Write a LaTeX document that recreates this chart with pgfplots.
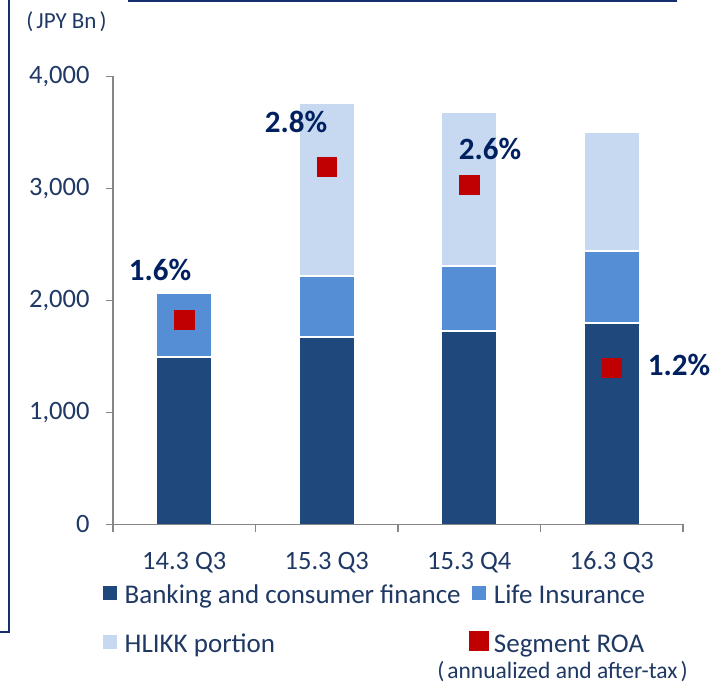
\documentclass[border=0pt]{standalone}
\usepackage{fontspec}
\setmainfont{Carlito}
\usepackage{pgfplots}
\pgfplotsset{compat=1.18}
\usepackage{pgfplotstable}
\definecolor{bank}{RGB}{31,73,125}
\definecolor{life}{RGB}{85,142,213}
\definecolor{hlikk}{RGB}{198,217,241}
\definecolor{roa}{RGB}{192,0,0}
\definecolor{navy}{RGB}{0,32,96}
\definecolor{txt}{RGB}{31,56,100}
\definecolor{axgray}{RGB}{134,134,134}
\definecolor{frame}{RGB}{23,45,110}

\pgfplotstableread{
x bank life hlikk roa
0 1494 566 0 1829
1 1672 545 1545 3190
2 1726 580 1375 3030
3 1797 643 1063 1396
}\data

\begin{document}
\begin{tikzpicture}[x=1pt,y=1pt]
\path[use as bounding box] (0,0) rectangle (728,684);
\draw[frame, line width=2.5pt] (0,52) -- (9,52) -- (9,684);
\draw[frame, line width=2.5pt] (128,683) -- (677,683);
\node[txt, font=\fontsize{23}{27}\selectfont] at (66.5,662) {(\kern3pt JPY Bn\kern3pt)};
\node[txt, inner sep=0pt, font=\fontsize{23.5}{27}\selectfont] at (562.5,12) {(\kern3pt annualized and after-tax\kern3pt)};

\begin{axis}[
  at={(113pt,159.7pt)}, anchor=south west, scale only axis,
  width=570pt, height=448pt,
  xmin=-0.5, xmax=3.5, ymin=0, ymax=4000,
  ybar stacked, bar width=55pt,
  axis lines*=left,
  axis line style={axgray, line width=1.5pt},
  tick style={axgray, line width=1.5pt},
  tick align=outside, major tick length=7pt, minor tick length=8pt,
  xtick={0,1,2,3}, xticklabels={14.3 Q3,15.3 Q3,15.3 Q4,16.3 Q3},
  major x tick style={draw=none},
  minor xtick={-0.5,0.5,1.5,2.5,3.5},
  ytick={0,1000,2000,3000,4000},
  scaled y ticks=false,
  /pgf/number format/1000 sep={,},
  /pgf/number format/assume math mode=true,
  tick label style={txt, font=\fontsize{26.5}{30}\selectfont},
  yticklabel style={xshift=-13pt},
  xticklabel style={yshift=-17pt},
  axis on top,
  legend style={draw=none, fill=none, inner sep=0pt, outer sep=0pt,
    at={(axis description cs:-0.02368,-0.1355)}, anchor=north west,
    legend columns=2, row sep=21pt,
    font=\fontsize{27}{30}\selectfont, text=txt,
    nodes={inner sep=0pt, text height=19pt, text depth=6pt},
    /tikz/every odd column/.append style={column sep=5pt},
    /tikz/every even column/.append style={column sep=8pt}},
  legend cell align=left,
]
\addplot[fill=bank, draw=white, line width=1.2pt,
  legend image code/.code={\path (0pt,0pt) rectangle (19pt,0pt); \fill[bank] (3pt,-2pt) rectangle (16pt,11pt);}]
  table[x=x,y=bank]{\data};
\addplot[fill=life, draw=white, line width=1.2pt,
  legend image code/.code={\path (0pt,0pt) rectangle (19pt,0pt); \fill[life] (3pt,-2pt) rectangle (16pt,11pt);}]
  table[x=x,y=life]{\data};
\addplot[fill=hlikk, draw=white, line width=1.2pt,
  legend image code/.code={\path (0pt,0pt) rectangle (19pt,0pt); \fill[hlikk] (3pt,-2pt) rectangle (16pt,11pt);}]
  table[x=x,y=hlikk]{\data};
\addlegendimage{legend image code/.code={\fill[roa] (0pt,-4pt) rectangle (19pt,15pt);}}
\legend{Banking and consumer finance, Life Insurance, HLIKK portion, Segment ROA}
\end{axis}

\begin{axis}[
  at={(113pt,159.7pt)}, anchor=south west, scale only axis,
  width=570pt, height=448pt,
  xmin=-0.5, xmax=3.5, ymin=0, ymax=4000,
  hide axis, clip=false,
]
\addplot[only marks, color=roa, mark=square*, mark size=9.6pt, mark options={solid, fill=roa, draw=roa, line width=0.4pt}]
  table[x=x,y=roa]{\data};
\begin{scope}[every node/.style={navy, font=\bfseries\fontsize{31}{36}\selectfont}]
\node at (axis cs:-0.170,2270) {1.6\%};
\node at (axis cs:0.784,3592) {2.8\%};
\node at (axis cs:2.146,3351) {2.6\%};
\node at (axis cs:3.472,1422) {1.2\%};
\end{scope}
\end{axis}
\end{tikzpicture}
\end{document}
